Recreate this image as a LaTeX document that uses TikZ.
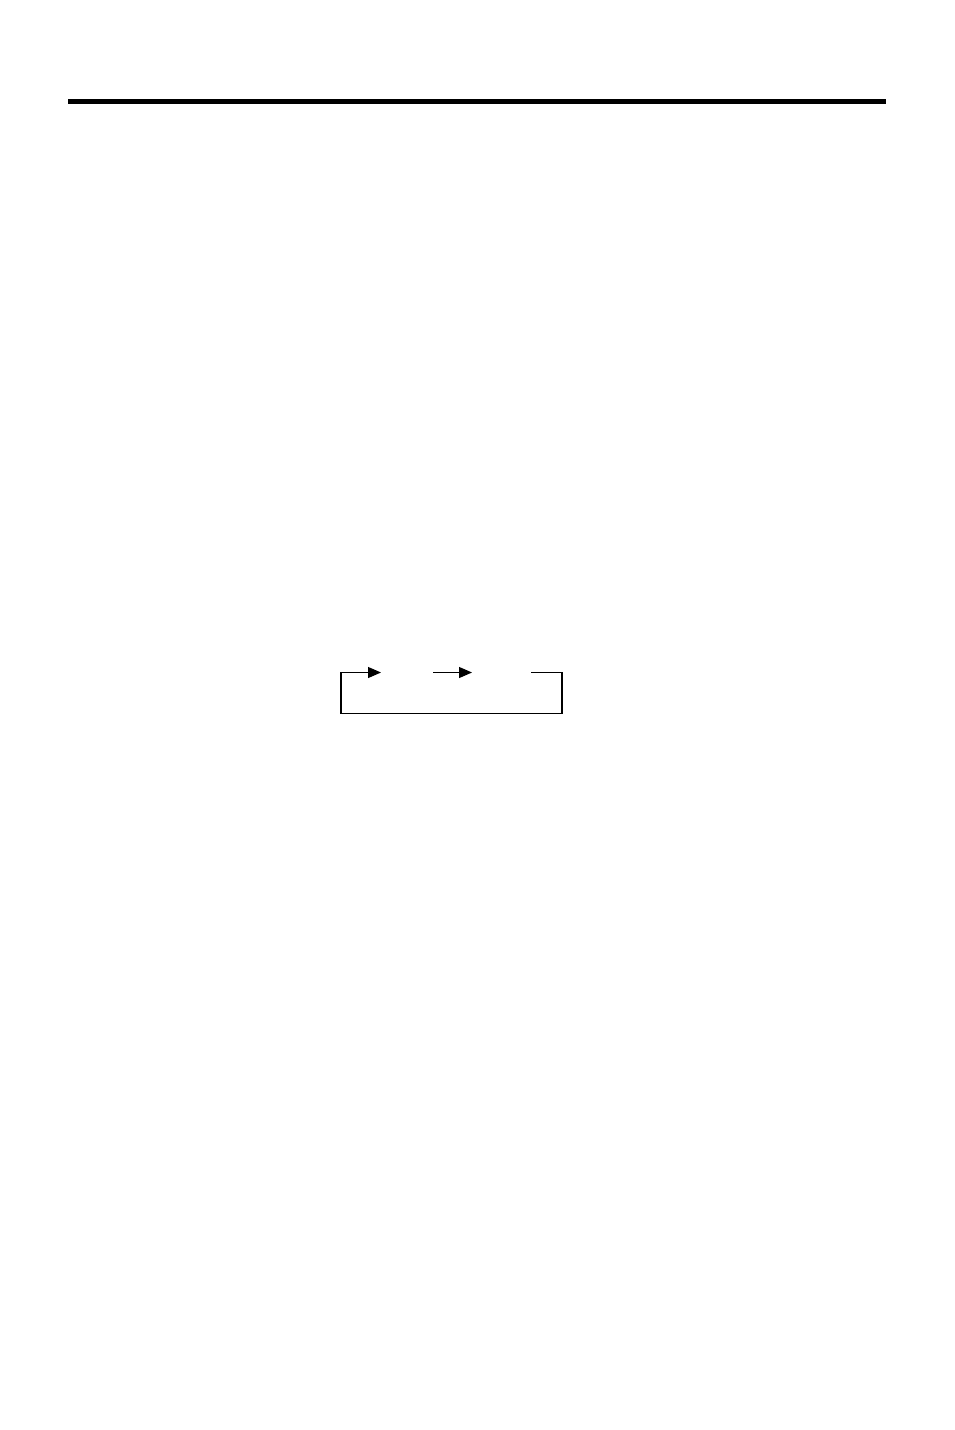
\documentclass[tikz,border=0pt]{standalone}
\usetikzlibrary{arrows.meta}
\begin{document}
\begin{tikzpicture}[x=1pt,y=-1pt,
  wire/.style={line width=1.2pt,black},
  flow/.style={wire,-{Triangle[length=13pt,width=11pt]}}]
\useasboundingbox (0,0) rectangle (954,1430);
\fill[white] (0,0) rectangle (954,1430);
\draw[line width=5pt] (68,101.5) -- (886,101.5);
\coordinate (a0) at (341,672.5);
\coordinate (a1) at (381,672.5);
\coordinate (b0) at (433,672.5);
\coordinate (b1) at (472,672.5);
\coordinate (c0) at (531,672.5);
\coordinate (c1) at (562,672.5);
\coordinate (d1) at (562,713.5);
\coordinate (d0) at (341,713.5);
\draw[flow] (d0) -- (a0) -- (a1);
\draw[flow] (b0) -- (b1);
\draw[wire] (c0) -- (c1) -- (d1) -- (d0);
\end{tikzpicture}
\end{document}
